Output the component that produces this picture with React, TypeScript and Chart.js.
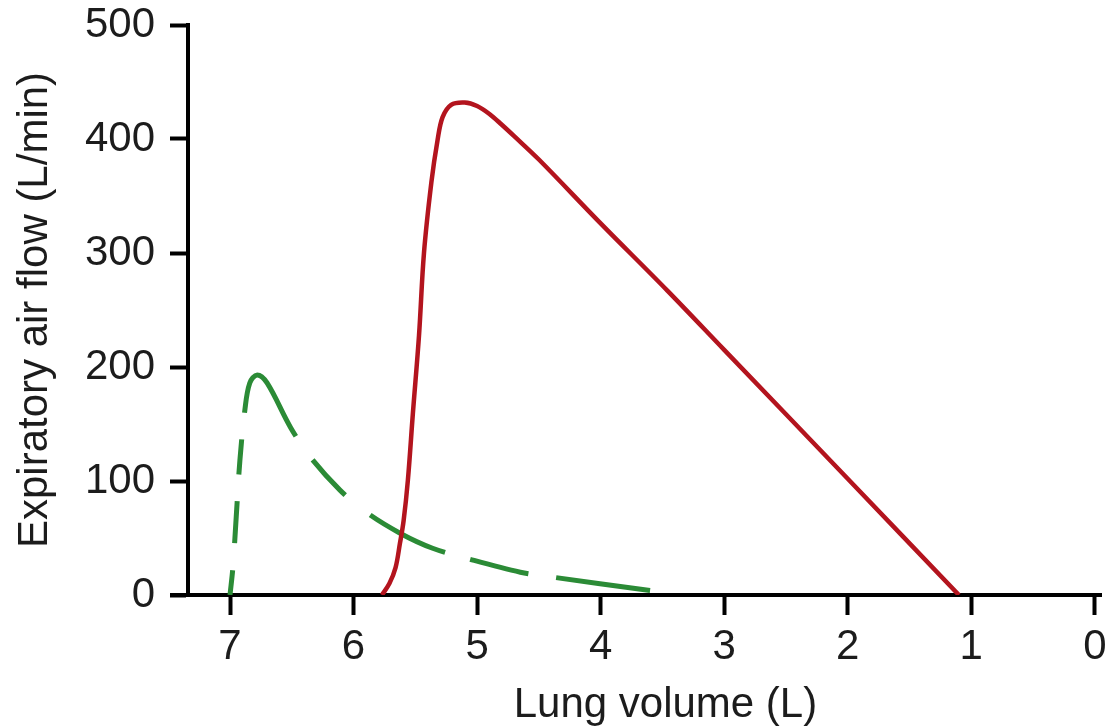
import React, { useEffect, useRef } from 'react';
import { Chart, registerables } from 'chart.js';

Chart.register(...registerables);

// Axis ticks
const volumeTicks = [7, 6, 5, 4, 3, 2, 1, 0];
const flowTicks = [0, 100, 200, 300, 400, 500];

// Solid red curve
const redVolume = [5.77, 5.71, 5.66, 5.625, 5.595, 5.56, 5.52, 5.47, 5.43, 5.37, 5.32, 5.28, 5.21, 5.1, 5.0, 4.9, 4.8, 4.7, 4.5, 4.0, 3.46, 3.0, 2.0, 1.1];
const redFlow = [0, 10, 24, 45, 65, 101, 159, 228, 300, 362, 399, 419, 430, 432, 429, 422, 412.5, 402.5, 382, 326, 267, 215, 102, 0];

// Dashed green curve
const greenVolume = [7.0, 6.976, 6.946, 6.92, 6.88, 6.84, 6.78, 6.7, 6.51, 6.35, 6.11, 5.89, 5.62, 5.36, 5.08, 4.65, 4.41, 3.6];
const greenFlow = [0, 25, 75, 118, 162, 186, 193, 186, 147, 121, 92, 72, 54, 41, 32, 20, 16, 4];

// Irregular dash pattern of the green curve (pixels along the line)
const greenDash = [25, 27, 42, 27, 35, 27, 115, 29, 48, 32, 84, 26, 60, 28, 110, 30];

const FONT = '"Liberation Sans", Arial, Helvetica, sans-serif';
const TEXT = '#1c1c1c';

const axisExtras = {
  id: 'axisExtras',
  afterDraw(chart: any) {
    const { ctx, chartArea, scales } = chart;
    const xs = scales.x;
    const ys = scales.y;
    const y0 = ys.getPixelForValue(0);
    ctx.save();
    ctx.strokeStyle = '#000';
    ctx.lineWidth = 4;
    ctx.beginPath();
    ctx.moveTo(chartArea.left - 18, y0);
    ctx.lineTo(chartArea.left, y0);
    ctx.stroke();
    ctx.fillStyle = TEXT;
    ctx.font = '42px ' + FONT;
    ctx.textAlign = 'center';
    ctx.textBaseline = 'alphabetic';
    const cx = (xs.getPixelForValue(volumeTicks[0]) + xs.getPixelForValue(volumeTicks[volumeTicks.length - 1])) / 2 + 3;
    ctx.fillText('Lung volume (L)', cx, chart.height - 10);
    ctx.restore();
  },
};

export default function App() {
  const ref = useRef<HTMLCanvasElement | null>(null);

  useEffect(() => {
    if (!ref.current) return;
    const chart = new Chart(ref.current, {
      type: 'scatter',
      data: {
        datasets: [
          {
            data: redVolume.map((v, i) => ({ x: v, y: redFlow[i] })),
            showLine: true,
            borderColor: '#b3141e',
            borderWidth: 4.5,
            pointRadius: 0,
            tension: 0.35,
            fill: false,
          },
          {
            data: greenVolume.map((v, i) => ({ x: v, y: greenFlow[i] })),
            showLine: true,
            borderColor: '#2b8b36',
            borderWidth: 5,
            borderDash: greenDash,
            borderDashOffset: 0,
            pointRadius: 0,
            tension: 0.35,
            fill: false,
          },
        ],
      },
      options: {
        responsive: false,
        animation: false,
        devicePixelRatio: 1,
        layout: { padding: { left: 0, top: 25, right: 12, bottom: 0 } },
        plugins: { legend: { display: false }, tooltip: { enabled: false } },
        scales: {
          x: {
            type: 'linear',
            reverse: true,
            min: -0.05,
            max: 7.34,
            afterBuildTicks: (s: any) => {
              s.ticks = volumeTicks.map((v) => ({ value: v }));
            },
            afterFit: (s: any) => {
              s.height = 132;
              s.paddingLeft = 0;
              s.paddingRight = 0;
            },
            ticks: {
              padding: 7,
              color: TEXT,
              font: { family: FONT, size: 42 },
              callback: (v: any) => String(v),
              maxRotation: 0,
              autoSkip: false,
            },
            grid: {
              drawOnChartArea: false,
              drawTicks: true,
              tickLength: 20,
              tickWidth: 4,
              tickColor: '#000',
            },
            border: { display: true, color: '#000', width: 4 },
            title: { display: false },
          },
          y: {
            type: 'linear',
            min: 0,
            max: 500,
            afterBuildTicks: (s: any) => {
              s.ticks = flowTicks.map((v) => ({ value: v }));
            },
            afterFit: (s: any) => {
              s.width = 188;
              s.paddingTop = 0;
              s.paddingBottom = 0;
            },
            ticks: {
              padding: 15,
              color: TEXT,
              font: { family: FONT, size: 42 },
              callback: (v: any) => String(v),
              autoSkip: false,
            },
            grid: {
              drawOnChartArea: false,
              drawTicks: true,
              tickLength: 18,
              tickWidth: 4,
              tickColor: '#000',
            },
            border: { display: true, color: '#000', width: 4 },
            title: {
              display: true,
              text: 'Expiratory air flow (L/min)',
              color: TEXT,
              font: { family: FONT, size: 42 },
              padding: { top: 10, bottom: 0 },
            },
          },
        },
      },
      plugins: [axisExtras],
    } as any);
    return () => chart.destroy();
  }, []);

  return (
    <div style={{ position: 'fixed', left: 0, top: 0, width: 1113, height: 727, background: '#fff' }}>
      <canvas ref={ref} width={1113} height={727} style={{ display: 'block', width: 1113, height: 727 }} />
    </div>
  );
}
